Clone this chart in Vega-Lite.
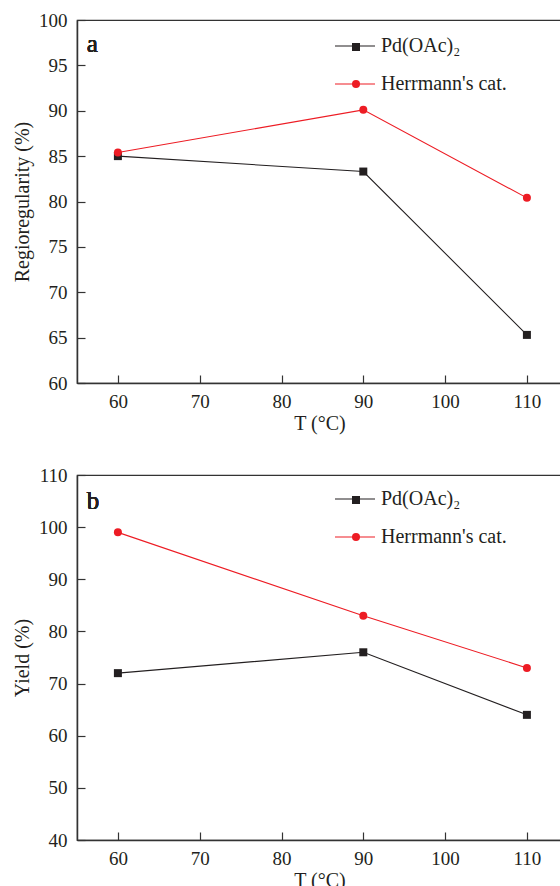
{
  "$schema": "https://vega.github.io/schema/vega-lite/v6.json",
  "padding": {"left": 11, "top": 10, "right": 0, "bottom": 0},
  "background": "white",
  "config": {
    "font": "Liberation Serif",
    "view": {"stroke": "#333333", "strokeWidth": 1.2},
    "axis": {
      "grid": false,
      "domainColor": "#333333",
      "domainWidth": 1.5,
      "tickColor": "#333333",
      "tickWidth": 1.2,
      "labelColor": "#231f20",
      "labelFont": "Liberation Serif",
      "labelFontSize": 19,
      "titleFont": "Liberation Serif",
      "titleFontSize": 20,
      "titleFontWeight": "normal",
      "titleColor": "#231f20"
    },
    "text": {"font": "Liberation Serif"},
    "legend": {"padding": 0},
    "concat": {"spacing": 92}
  },
  "bounds": "flush",
  "data": {
    "values": [
      {"panel": "a", "T": 60, "cat": "Pd(OAc)₂", "value": 85.0},
      {"panel": "a", "T": 90, "cat": "Pd(OAc)₂", "value": 83.3},
      {"panel": "a", "T": 110, "cat": "Pd(OAc)₂", "value": 65.3},
      {"panel": "a", "T": 60, "cat": "Herrmann's cat.", "value": 85.4},
      {"panel": "a", "T": 90, "cat": "Herrmann's cat.", "value": 90.1},
      {"panel": "a", "T": 110, "cat": "Herrmann's cat.", "value": 80.4},
      {"panel": "b", "T": 60, "cat": "Pd(OAc)₂", "value": 72},
      {"panel": "b", "T": 90, "cat": "Pd(OAc)₂", "value": 76},
      {"panel": "b", "T": 110, "cat": "Pd(OAc)₂", "value": 64},
      {"panel": "b", "T": 60, "cat": "Herrmann's cat.", "value": 99},
      {"panel": "b", "T": 90, "cat": "Herrmann's cat.", "value": 83},
      {"panel": "b", "T": 110, "cat": "Herrmann's cat.", "value": 73}
    ]
  },
  "vconcat": [
    {
      "width": 485,
      "height": 363,
      "transform": [{"filter": "datum.panel === 'a'"}],
      "layer": [
        {
          "mark": {"type": "line", "strokeWidth": 1.1},
          "encoding": {
            "x": {"field": "T", "type": "quantitative", "scale": {"domain": [55, 114.29], "nice": false},
              "axis": {"title": "T (°C)", "values": [60, 70, 80, 90, 100, 110], "tickSize": -8, "labelPadding": 17, "titlePadding": 2}},
            "y": {"field": "value", "type": "quantitative", "scale": {"domain": [60, 100], "nice": false, "zero": false},
              "axis": {"title": "Regioregularity (%)", "values": [60, 65, 70, 75, 80, 85, 90, 95, 100], "tickSize": -8, "labelPadding": 18, "titlePadding": 6}},
            "color": {"field": "cat", "type": "nominal", "scale": {"domain": ["Pd(OAc)₂", "Herrmann's cat."], "range": ["#231f20", "#ed1c24"]},
              "legend": {"orient": "none", "legendX": 257, "legendY": 5, "title": null, "symbolType": "stroke", "symbolSize": 1600, "symbolStrokeWidth": 1.1,
                "labelFont": "Liberation Serif", "labelFontSize": 20, "labelColor": "#231f20", "labelOffset": 5, "rowPadding": 7}}
          }
        },
        {
          "mark": {"type": "point", "filled": true, "opacity": 1},
          "encoding": {
            "x": {"field": "T", "type": "quantitative"},
            "y": {"field": "value", "type": "quantitative"},
            "color": {"field": "cat", "type": "nominal", "scale": {"domain": ["Pd(OAc)₂", "Herrmann's cat."], "range": ["#231f20", "#ed1c24"]},
              "legend": {"orient": "none", "legendX": 269, "legendY": 17, "title": null, "symbolSize": 64, "symbolOpacity": 1,
                "labelFont": "Liberation Serif", "labelFontSize": 20, "labelColor": "transparent", "labelOffset": 6, "rowPadding": 17}},
            "shape": {"field": "cat", "type": "nominal", "scale": {"domain": ["Pd(OAc)₂", "Herrmann's cat."], "range": ["square", "circle"]},
              "legend": {"orient": "none", "legendX": 269, "legendY": 17, "title": null, "symbolSize": 64, "symbolOpacity": 1,
                "labelFont": "Liberation Serif", "labelFontSize": 20, "labelColor": "transparent", "labelOffset": 6, "rowPadding": 17}},
            "size": {"value": 64}
          }
        },
        {
          "mark": {"type": "text", "fontSize": 25, "fontWeight": 400, "font": "Liberation Serif", "color": "#231f20", "align": "left", "baseline": "alphabetic"},
          "encoding": {
            "x": {"datum": 56.2},
            "y": {"datum": 96.5},
            "text": {"value": "a"}
          }
        }
      ],
      "resolve": {"scale": {"color": "independent", "shape": "independent"}}
    },
    {
      "width": 485,
      "height": 365,
      "transform": [{"filter": "datum.panel === 'b'"}],
      "layer": [
        {
          "mark": {"type": "line", "strokeWidth": 1.1},
          "encoding": {
            "x": {"field": "T", "type": "quantitative", "scale": {"domain": [55, 114.29], "nice": false},
              "axis": {"title": "T (°C)", "values": [60, 70, 80, 90, 100, 110], "tickSize": -8, "labelPadding": 17, "titlePadding": 2}},
            "y": {"field": "value", "type": "quantitative", "scale": {"domain": [40, 110], "nice": false, "zero": false},
              "axis": {"title": "Yield (%)", "values": [40, 50, 60, 70, 80, 90, 100, 110], "tickSize": -8, "labelPadding": 18, "titlePadding": 6}},
            "color": {"field": "cat", "type": "nominal", "scale": {"domain": ["Pd(OAc)₂", "Herrmann's cat."], "range": ["#231f20", "#ed1c24"]},
              "legend": {"orient": "none", "legendX": 257, "legendY": 3, "title": null, "symbolType": "stroke", "symbolSize": 1600, "symbolStrokeWidth": 1.1,
                "labelFont": "Liberation Serif", "labelFontSize": 20, "labelColor": "#231f20", "labelOffset": 5, "rowPadding": 7}}
          }
        },
        {
          "mark": {"type": "point", "filled": true, "opacity": 1},
          "encoding": {
            "x": {"field": "T", "type": "quantitative"},
            "y": {"field": "value", "type": "quantitative"},
            "color": {"field": "cat", "type": "nominal", "scale": {"domain": ["Pd(OAc)₂", "Herrmann's cat."], "range": ["#231f20", "#ed1c24"]},
              "legend": {"orient": "none", "legendX": 269, "legendY": 15, "title": null, "symbolSize": 64, "symbolOpacity": 1,
                "labelFont": "Liberation Serif", "labelFontSize": 20, "labelColor": "transparent", "labelOffset": 6, "rowPadding": 17}},
            "shape": {"field": "cat", "type": "nominal", "scale": {"domain": ["Pd(OAc)₂", "Herrmann's cat."], "range": ["square", "circle"]},
              "legend": {"orient": "none", "legendX": 269, "legendY": 15, "title": null, "symbolSize": 64, "symbolOpacity": 1,
                "labelFont": "Liberation Serif", "labelFontSize": 20, "labelColor": "transparent", "labelOffset": 6, "rowPadding": 17}},
            "size": {"value": 64}
          }
        },
        {
          "mark": {"type": "text", "fontSize": 25, "fontWeight": 400, "font": "Liberation Serif", "color": "#231f20", "align": "left", "baseline": "alphabetic"},
          "encoding": {
            "x": {"datum": 56.2},
            "y": {"datum": 103.5},
            "text": {"value": "b"}
          }
        }
      ],
      "resolve": {"scale": {"color": "independent", "shape": "independent"}}
    }
  ],
  "resolve": {"scale": {"color": "independent", "shape": "independent", "x": "independent", "y": "independent"}}
}
